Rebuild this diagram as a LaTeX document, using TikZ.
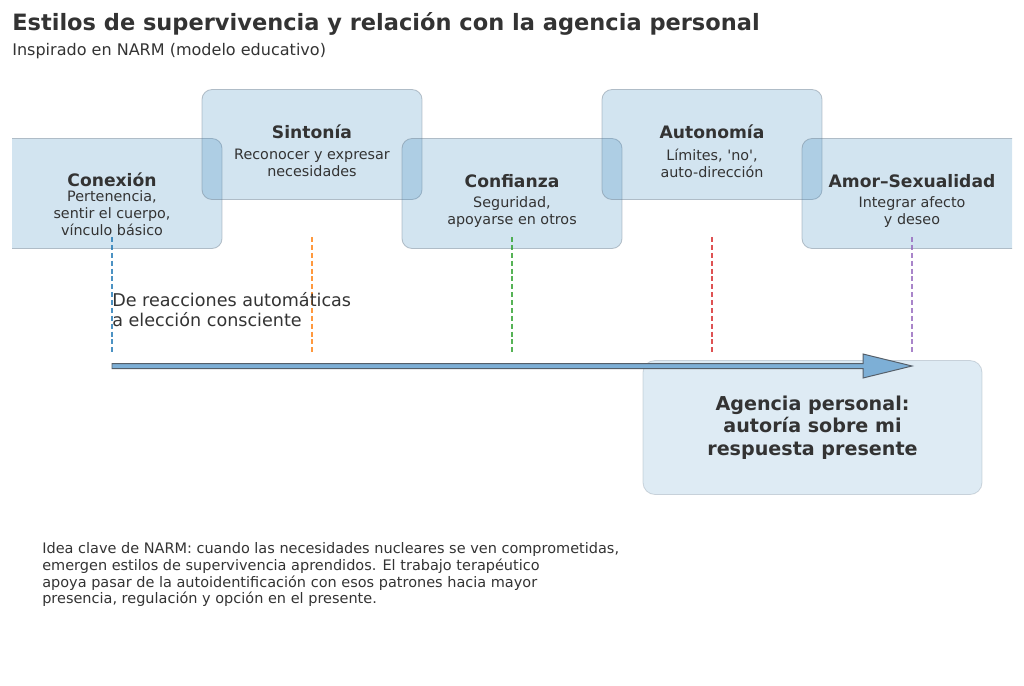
\documentclass[tikz,border=0pt]{standalone}
\usepackage{fontspec}
\setmainfont{DejaVu Sans}
\usetikzlibrary{calc}
\definecolor{txt}{RGB}{51,51,51}
\definecolor{tabblue}{RGB}{31,119,180}
\definecolor{taborange}{RGB}{255,127,14}
\definecolor{tabgreen}{RGB}{44,160,44}
\definecolor{tabred}{RGB}{214,39,40}
\definecolor{tabpurple}{RGB}{148,103,189}
\definecolor{borde}{RGB}{100,115,130}
\definecolor{flechafill}{RGB}{125,175,214}
\definecolor{flechaborde}{RGB}{85,95,105}
\newcommand\comilla{\XeTeXglyph\XeTeXcharglyph"27\relax}
\tikzset{
  etapa/.style={draw=borde, draw opacity=0.4, fill=tabblue, fill opacity=0.2,
    rounded corners=0.25cm, minimum width=5.5cm, minimum height=2.75cm, line width=0.6pt},
  etitulo/.style={font=\fontsize{12.2}{14}\selectfont\bfseries, inner sep=0},
  ecuerpo/.style={font=\fontsize{10.2}{12}\selectfont, align=center, inner sep=0},
  guia/.style={dash pattern=on 3.6pt off 2pt, line width=0.8pt, draw opacity=0.8},
  agencia/.style={draw=borde, draw opacity=0.25, fill=tabblue, fill opacity=0.15, text opacity=1,
    rounded corners=0.3cm, minimum width=8.475cm, minimum height=3.35cm, line width=0.6pt,
    align=center, font=\fontsize{13.6}{16.2}\selectfont\bfseries},
  flecha/.style={draw=flechaborde, fill=flechafill, line width=0.7pt, line join=miter}
}
\begin{document}
\begin{tikzpicture}[x=0.025cm, y=-0.025cm, every node/.style={text=txt}]
  %%%%% START %%%%%
  \useasboundingbox (0,0) rectangle (1024,685);

  \node[anchor=base west, inner sep=0, font=\fontsize{16}{19}\selectfont\bfseries] (titulo) at (12,30)
    {Estilos de supervivencia y relación con la agencia personal};
  \node[anchor=base west, inner sep=0, font=\fontsize{11.4}{13}\selectfont] (subtitulo) at (12,55)
    {Inspirado en NARM (modelo educativo)};

  \begin{scope}
    \clip (12,0) rectangle (1012,685);
    \node[etapa] (conexion) at (112,193.5) {};
    \node[etapa] (sintonia) at (312,144.5) {};
    \node[etapa] (confianza) at (512,193.5) {};
    \node[etapa] (autonomia) at (712,144.5) {};
    \node[etapa] (amor) at (912,193.5) {};
  \end{scope}

  \node[etitulo] (conexion-t) at ($(conexion.center)+(0,-14)$) {Conexión};
  \node[ecuerpo] (conexion-c) at ($(conexion.center)+(0,19.5)$) {Pertenencia,\\sentir el cuerpo,\\vínculo básico};
  \node[etitulo] (sintonia-t) at ($(sintonia.center)+(0,-12.5)$) {Sintonía};
  \node[ecuerpo] (sintonia-c) at ($(sintonia.center)+(0,18.5)$) {Reconocer y expresar\\necesidades};
  \node[etitulo] (confianza-t) at ($(confianza.center)+(0,-12.5)$) {Confianza};
  \node[ecuerpo] (confianza-c) at ($(confianza.center)+(0,18.5)$) {Seguridad,\\apoyarse en otros};
  \node[etitulo] (autonomia-t) at ($(autonomia.center)+(0,-12.5)$) {Autonomía};
  \node[ecuerpo] (autonomia-c) at ($(autonomia.center)+(0,18.5)$) {Límites, \comilla no\comilla,\\auto-dirección};
  \node[etitulo] (amor-t) at ($(amor.center)+(0,-12.5)$) {Amor–Sexualidad};
  \node[ecuerpo] (amor-c) at ($(amor.center)+(0,18.5)$) {Integrar afecto\\y deseo};

  % lineas guia
  \coordinate (ltop) at (0,237);
  \coordinate (lbot) at (0,353);
  \foreach \n/\c in {conexion/tabblue, sintonia/taborange, confianza/tabgreen, autonomia/tabred, amor/tabpurple}
    \draw[guia, draw=\c] (\n.center |- ltop) -- (\n.center |- lbot);

  \node[anchor=north west, inner sep=0, align=left, font=\fontsize{12.5}{14.2}\selectfont] (lema) at (112,292)
    {De reacciones automáticas\\a elección consciente};

  \node[agencia] (agencia) at (812.5,427.5) {Agencia personal:\\autoría sobre mi\\respuesta presente};

  % flecha
  \coordinate (inicio) at (112,366);
  \coordinate (fin) at (912,366);
  \draw[flecha] ($(inicio)+(0,-2.5)$) -- ($(fin)+(-49,-2.5)$) -- ($(fin)+(-49,-12)$) -- (fin)
    -- ($(fin)+(-49,12)$) -- ($(fin)+(-49,2.5)$) -- ($(inicio)+(0,2.5)$) -- cycle;

  \node[anchor=north west, inner sep=0, align=left, font=\fontsize{10.3}{12}\selectfont] (nota) at (42,542)
    {Idea clave de NARM: cuando las necesidades nucleares se ven comprometidas,\\
     emergen estilos de supervivencia aprendidos. El trabajo terapéutico\\
     apoya pasar de la autoidentificación con esos patrones hacia mayor\\
     presencia, regulación y opción en el presente.};

  %%%%% END %%%%%
\end{tikzpicture}
\end{document}
